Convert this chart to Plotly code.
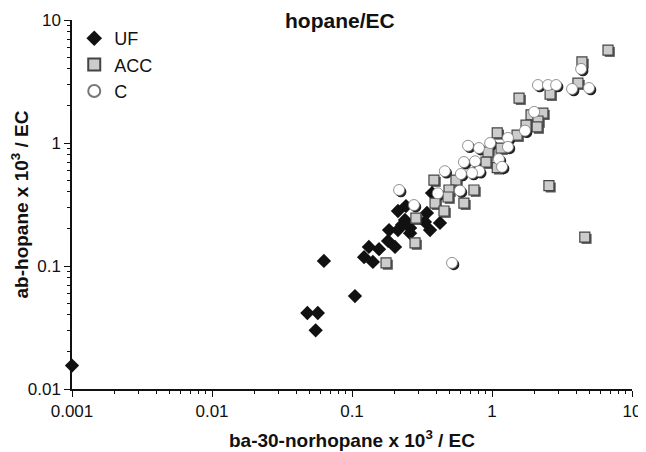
import plotly.graph_objects as go

# hopane / EC scatter
uf_x = [0.001, 0.048, 0.057, 0.055, 0.063, 0.105, 0.122, 0.141, 0.132, 0.156,
        0.181, 0.203, 0.184, 0.213, 0.228, 0.213, 0.243, 0.239, 0.26, 0.26,
        0.343, 0.332, 0.361, 0.425, 0.373]
uf_y = [0.0155, 0.0415, 0.0415, 0.030, 0.110, 0.057, 0.118, 0.108, 0.143, 0.137,
        0.160, 0.143, 0.196, 0.196, 0.216, 0.280, 0.307, 0.237, 0.204, 0.185,
        0.270, 0.228, 0.196, 0.224, 0.392]

acc_x = [6.74, 4.39, 4.11, 2.6, 1.56, 2.31, 1.9, 2.13, 2.1, 1.75,
         1.51, 1.09, 0.936, 0.906, 1.16, 1.09, 0.385, 0.553, 0.493, 0.743,
         0.485, 0.392, 0.63, 0.454, 0.286, 0.282, 0.175, 2.55, 4.6]
acc_y = [5.7, 4.56, 3.07, 2.5, 2.32, 1.75, 1.69, 1.51, 1.35, 1.4,
         1.16, 1.21, 0.845, 0.70, 0.91, 0.63, 0.50, 0.50, 0.415, 0.415,
         0.364, 0.325, 0.325, 0.28, 0.245, 0.154, 0.106, 0.45, 0.172]

c_x = [4.33, 2.13, 2.51, 2.87, 3.73, 4.93, 2.0, 1.72, 1.3, 0.97,
       0.674, 0.807, 1.3, 1.12, 1.18, 0.63, 0.757, 0.81, 0.72, 0.6,
       0.46, 0.59, 0.41, 0.277, 0.217, 0.518]
c_y = [4.0, 2.96, 2.96, 2.96, 2.75, 2.8, 1.79, 1.26, 1.1, 1.0,
       0.95, 0.91, 0.93, 0.74, 0.64, 0.70, 0.71, 0.59, 0.57, 0.56,
       0.59, 0.41, 0.39, 0.313, 0.415, 0.106]

x_ticks = [0.001, 0.01, 0.1, 1, 10]
x_labels = ['0.001', '0.01', '0.1', '1', '10']
y_ticks = [0.01, 0.1, 1, 10]
y_labels = ['0.01', '0.1', '1', '10']

SHX, SHY = 1.03, 1 / 1.035  # drop shadow shift (multiplicative on log axes)

fig = go.Figure()

# shadows
fig.add_trace(go.Scatter(x=[v * SHX for v in acc_x], y=[v * SHY for v in acc_y], mode='markers',
                         marker=dict(symbol='square', size=10, color='#555555'),
                         showlegend=False, hoverinfo='skip', cliponaxis=False))
fig.add_trace(go.Scatter(x=[v * SHX for v in c_x], y=[v * SHY for v in c_y], mode='markers',
                         marker=dict(symbol='circle', size=11, color='#222222'),
                         showlegend=False, hoverinfo='skip', cliponaxis=False))

fig.add_trace(go.Scatter(x=uf_x, y=uf_y, mode='markers', name='UF',
                         marker=dict(symbol='diamond', size=11, color='#111111',
                                     line=dict(width=0)),
                         cliponaxis=False))
fig.add_trace(go.Scatter(x=acc_x, y=acc_y, mode='markers', name='ACC',
                         marker=dict(symbol='square', size=10, color='#cccccc',
                                     line=dict(color='#444444', width=1.2)),
                         cliponaxis=False))
fig.add_trace(go.Scatter(x=c_x, y=c_y, mode='markers', name='C',
                         marker=dict(symbol='circle', size=11, color='white',
                                     line=dict(color='#777777', width=0.8)),
                         cliponaxis=False))

font = 'Liberation Sans, Arial, sans-serif'

# page body adds an 8px margin, so the figure is 8px smaller on each side
fig.update_layout(
    width=638, height=444,
    margin=dict(l=64, r=14, t=12, b=63),
    paper_bgcolor='white', plot_bgcolor='white',
    font=dict(family=font, size=17, color='#111111'),
    showlegend=True,
    legend=dict(x=0.004, y=1.0, xanchor='left', yanchor='top',
                bgcolor='rgba(0,0,0,0)', font=dict(size=18),
                itemsizing='constant', itemwidth=30, tracegroupgap=0),
    annotations=[dict(text='<b>hopane/EC</b>', x=0.478, y=1.0, xref='paper', yref='paper',
                      xanchor='center', yanchor='middle', showarrow=False,
                      font=dict(size=21))],
)

fig.update_xaxes(type='log', range=[-3, 1], tickvals=x_ticks, ticktext=x_labels,
                 automargin=False,
                 showgrid=False, zeroline=False, showline=True, linecolor='#111111',
                 linewidth=1.5, ticks='outside', ticklen=6, tickcolor='#111111',
                 minor=dict(ticks='outside', ticklen=3, dtick='D1', tickcolor='#111111',
                            showgrid=False),
                 tickfont=dict(size=17),
                 title=dict(text='<b>ba-30-norhopane x 10<sup>3</sup> / EC</b>',
                            font=dict(size=19), standoff=14))
fig.update_yaxes(type='log', range=[-2, 1], tickvals=y_ticks, ticktext=y_labels,
                 automargin=False,
                 showgrid=False, zeroline=False, showline=True, linecolor='#111111',
                 linewidth=1.5, ticks='outside', ticklen=6, tickcolor='#111111',
                 minor=dict(ticks='outside', ticklen=3, dtick='D1', tickcolor='#111111',
                            showgrid=False),
                 tickfont=dict(size=17),
                 title=dict(text='<b>ab-hopane x 10<sup>3</sup> / EC</b>',
                            font=dict(size=19), standoff=10))

fig.write_html('out.html')
